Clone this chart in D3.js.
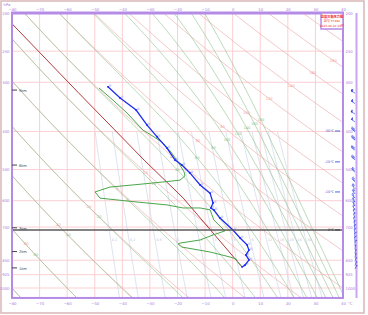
<!DOCTYPE html>
<html>
<head>
<meta charset="utf-8">
<script src="https://cdn.jsdelivr.net/npm/d3@7"></script>
<style>
body { margin: 0; background: #fff; }
svg { display: block; font-family: "DejaVu Sans", "Noto Sans CJK SC", sans-serif; }
</style>
</head>
<body>
<div id="chart"></div>
<script>
// ---- sounding data (hPa / °C) ----
var tempP = [308, 329, 353, 385, 413, 441, 473, 487, 510, 547, 574, 608, 626, 633, 664, 712, 746, 777, 801, 824, 849, 874, 884];
var tempT = [-45.2, -40.8, -35.0, -31.1, -27.4, -23.8, -20.9, -18.4, -15.5, -11.8, -8.2, -7.1, -7.9, -6.8, -4.6, 0.1, 2.7, 5.2, 5.9, 4.8, 5.9, 4.5, 3.4];

var dewP = [310, 333, 359, 397, 413, 428, 451, 478, 507, 519, 532, 541, 547, 554, 570, 591, 601, 608, 615, 626, 626, 633, 672, 716, 733, 755, 769, 773, 787, 810, 834, 844, 859, 884];
var dewT = [-48.5, -43.4, -38.3, -32.5, -28.5, -25.3, -22.4, -19.8, -17.6, -17.3, -19.1, -28.9, -36.1, -44.5, -49.9, -48.1, -38.3, -31.1, -23.8, -18.0, -11.8, -8.2, -6.8, -2.8, -7.1, -11.8, -19.1, -19.8, -18.4, -8.2, -1.0, 1.2, 1.9, 3.4];

var parcelP = [213, 318, 473, 590, 884];
var parcelT = [-80, -56.1, -32.1, -18.0, 3.4];

var windP = [316, 336, 357, 374, 396, 416, 441, 467, 502, 532, 553, 570, 584, 598, 612, 626, 641, 656, 671, 687, 703, 719, 736, 753, 771, 789, 808, 827, 846, 866, 884];
var windDir = [300, 305, 300, 305, 310, 310, 305, 310, 315, 320, 320, 325, 320, 325, 330, 330, 335, 340, 340, 345, 350, 350, 355, 355, 0, 5, 10, 10, 15, 20, 25];
var windSpd = [24, 22, 20, 20, 18, 18, 16, 16, 14, 14, 12, 12, 10, 10, 10, 8, 8, 8, 6, 6, 6, 4, 4, 4, 4, 2, 2, 2, 2, 2, 2];

// ---- diagram furniture ----
var isoTherms = [-80, -70, -60, -50, -40, -30, -20, -10, 0, 10, 20, 30, 40];
var isoBars = [200, 250, 300, 400, 500, 600, 700, 850, 925, 1000];
var thetaLines = [-80, -60, -40, -20, 0, 20, 40, 60, 80, 100, 120, 140, 160, 180, 200, 220];
var thetaSeLines = [-80, -60, -40, -20, 0, 20, 40, 60, 80, 100, 120, 140, 160, 180];
var mixRatios = [0.1, 0.2, 0.5, 1, 2, 3, 5, 8, 12, 16, 20, 24, 30];

var heightLabels = ["9km", "6km", "3km", "2km", "1km"];
var heightP = [314, 487, 703, 808, 889];
var levelLabels = ["-30℃", "-20℃", "-10℃", "0℃"];
var levelP = [399, 478, 570, 712];
var zeroLevelP = 712;

var titleLines = ["温度对数压力图", "站号 57494", "2023-06-01 08时"];

var pTop = 200, pBot = 1060;

var width = 368, height = 315;
var svg = d3.select("#chart").append("svg")
    .attr("width", width)
    .attr("height", height);

var x = d3.scaleLinear().domain([-80, 40]).range([12, 343]);
var y = d3.scaleLog().domain([200, 1000]).range([13, 288]);
var yBot = y(pBot);

var purple = "#b58be8";

// outer frame
svg.append("rect")
    .attr("x", 1).attr("y", 1)
    .attr("width", 363).attr("height", 312)
    .attr("fill", "none")
    .attr("stroke", "#d9b6b6")
    .attr("stroke-width", 1.5);

svg.append("clipPath").attr("id", "plotClip")
    .append("rect")
    .attr("x", x(-80)).attr("y", y(pTop))
    .attr("width", x(40) - x(-80)).attr("height", yBot - y(pTop));

var g = svg.append("g").attr("clip-path", "url(#plotClip)");

// pressure samples for curved reference lines
var pSamples = d3.range(0, 121).map(function(i) { return pTop * Math.pow(pBot / pTop, i / 120); });

var line = d3.line().x(function(d) { return x(d[0]); }).y(function(d) { return y(d[1]); });

// isotherms and isobars
g.selectAll("line.iso-t").data(isoTherms).enter().append("line")
    .attr("x1", function(d) { return x(d); }).attr("x2", function(d) { return x(d); })
    .attr("y1", y(pTop)).attr("y2", yBot)
    .attr("stroke", "#fbcfd3").attr("stroke-width", 1);

g.selectAll("line.iso-p").data(isoBars).enter().append("line")
    .attr("x1", x(-80)).attr("x2", x(40))
    .attr("y1", function(d) { return y(d); }).attr("y2", function(d) { return y(d); })
    .attr("stroke", "#fbcfd3").attr("stroke-width", 1);

function esat(tc) { return 6.112 * Math.exp(17.67 * tc / (tc + 243.5)); }

// mixing ratio lines (below 400 hPa)
function dewFromMix(w, p) {
    var e = w / 1000 * p / (0.622 + w / 1000);
    var l = Math.log(e / 6.112);
    return 243.5 * l / (17.67 - l);
}
var mixP = pSamples.filter(function(p) { return p >= 400; });
mixRatios.forEach(function(w) {
    var pts = mixP.map(function(p) { return [dewFromMix(w, p), p]; });
    g.append("path").attr("d", line(pts))
        .attr("fill", "none").attr("stroke", "#d3dbea").attr("stroke-width", 0.8);
    g.append("text")
        .attr("x", x(dewFromMix(w, 759)) + 1).attr("y", y(759))
        .attr("font-size", 3.4).attr("fill", "#b8c4d8")
        .text(w);
});

// label placement along a slanted line
function labelPoint(pts, a, b) {
    var ax = x(a[0]), ay = y(a[1]), bx = x(b[0]), by = y(b[1]);
    function s(px, py) { return (bx - ax) * (py - ay) - (by - ay) * (px - ax); }
    for (var i = 1; i < pts.length; i++) {
        var x0 = x(pts[i - 1][0]), y0 = y(pts[i - 1][1]);
        var x1 = x(pts[i][0]), y1 = y(pts[i][1]);
        var s0 = s(x0, y0), s1 = s(x1, y1);
        if (s0 === 0 || s0 * s1 < 0) {
            var t = s0 / (s0 - s1);
            var px = x0 + t * (x1 - x0), py = y0 + t * (y1 - y0);
            if (px > x(-80) + 2 && px < x(40) - 2 && py > y(pTop) + 2 && py < yBot - 2) return [px, py];
            return null;
        }
    }
    return null;
}

// dry adiabats
thetaLines.forEach(function(th) {
    var pts = pSamples.map(function(p) { return [(th + 273.15) * Math.pow(p / 1000, 0.286) - 273.15, p]; });
    g.append("path").attr("d", line(pts))
        .attr("fill", "none").attr("stroke", "#eea8a8").attr("stroke-width", 0.9)
        .attr("stroke-opacity", 0.7);
    var lp = labelPoint(pts, [21.5, 305], [-74.6, 770]);
    if (lp) {
        g.append("text").attr("x", lp[0]).attr("y", lp[1] + 1.2)
            .attr("text-anchor", "middle").attr("font-size", 3.6)
            .attr("fill", "#f19b9b").text(th);
    }
});

// moist (pseudo) adiabats from theta-se
function thetaSe(tk, p) {
    var es = esat(tk - 273.15);
    var ws = 0.622 * es / Math.max(p - es, 0.001);
    return tk * Math.pow(1000 / p, 0.286) * Math.exp(2.5e6 * ws / (1004 * tk));
}
function tempOnSe(target, p) {
    var lo = 150, hi = 325;
    if (thetaSe(hi, p) < target) return null;
    for (var k = 0; k < 40; k++) {
        var mid = (lo + hi) / 2;
        if (thetaSe(mid, p) < target) lo = mid; else hi = mid;
    }
    return (lo + hi) / 2 - 273.15;
}
thetaSeLines.forEach(function(th) {
    var pts = [];
    pSamples.forEach(function(p) {
        var t = tempOnSe(th + 273.15, p);
        if (t !== null) pts.push([t, p]);
    });
    g.append("path").attr("d", line(pts))
        .attr("fill", "none").attr("stroke", "#93c493").attr("stroke-width", 0.9)
        .attr("stroke-opacity", 0.7);
    var lp = labelPoint(pts, [9.9, 375], [-71.3, 821]);
    if (lp) {
        g.append("text").attr("x", lp[0]).attr("y", lp[1] + 1.2)
            .attr("text-anchor", "middle").attr("font-size", 3.6)
            .attr("fill", "#8cc48c").text(th);
    }
});

// 0 °C level
svg.append("line")
    .attr("x1", x(-80)).attr("x2", x(40))
    .attr("y1", y(zeroLevelP)).attr("y2", y(zeroLevelP))
    .attr("stroke", "#5a5a5a").attr("stroke-width", 1.4);

// parcel curve
var parcel = parcelP.map(function(p, i) { return [parcelT[i], p]; });
g.append("path").attr("d", line(parcel))
    .attr("fill", "none").attr("stroke", "#b23a3a").attr("stroke-width", 1);

// dew point curve
var dew = dewP.map(function(p, i) { return [dewT[i], p]; });
g.append("path").attr("d", line(dew))
    .attr("fill", "none").attr("stroke", "#4aa64a").attr("stroke-width", 1);

// temperature curve
var temp = tempP.map(function(p, i) { return [tempT[i], p]; });
g.selectAll("circle.tmark").data(temp).enter().append("circle")
    .attr("cx", function(d) { return x(d[0]) + 2.2; })
    .attr("cy", function(d) { return y(d[1]) - 1.2; })
    .attr("r", 1.3)
    .attr("fill", "#a9b4ff").attr("fill-opacity", 0.55);
g.append("path").attr("d", line(temp))
    .attr("fill", "none").attr("stroke", "#1e2ff0").attr("stroke-width", 1.3);
g.selectAll("rect.tdot").data(temp).enter().append("rect")
    .attr("x", function(d) { return x(d[0]) - 0.8; })
    .attr("y", function(d) { return y(d[1]) - 0.8; })
    .attr("width", 1.6).attr("height", 1.6)
    .attr("fill", "#1a22ff");

// plot frame
svg.append("rect")
    .attr("x", x(-80)).attr("y", y(pTop))
    .attr("width", x(40) - x(-80)).attr("height", yBot - y(pTop))
    .attr("fill", "none").attr("stroke", purple).attr("stroke-width", 2);
svg.append("line")
    .attr("x1", x(-80) - 1).attr("x2", x(40) + 1)
    .attr("y1", y(pTop)).attr("y2", y(pTop))
    .attr("stroke", purple).attr("stroke-width", 3);

// wind barb column
svg.append("line")
    .attr("x1", 356.5).attr("x2", 356.5)
    .attr("y1", y(pTop)).attr("y2", yBot)
    .attr("stroke", "#c9a7f0").attr("stroke-width", 2);

// axes (labels only)
function styleAxis(sel) {
    sel.select(".domain").remove();
    sel.selectAll("text")
        .attr("font-size", 3.8)
        .attr("fill", "#a678dc")
        .attr("font-family", "DejaVu Sans");
}
svg.append("g").attr("transform", "translate(0," + (y(pTop) - 1) + ")")
    .call(d3.axisTop(x).tickValues(isoTherms).tickSize(0).tickPadding(1.5))
    .call(styleAxis);
svg.append("g").attr("transform", "translate(0," + (yBot + 1) + ")")
    .call(d3.axisBottom(x).tickValues(isoTherms).tickSize(0).tickPadding(3))
    .call(styleAxis);
svg.append("g").attr("transform", "translate(" + (x(-80) - 1) + ",0)")
    .call(d3.axisLeft(y).tickValues(isoBars).tickFormat(d3.format("d")).tickSize(0).tickPadding(1.5))
    .call(styleAxis);
svg.append("g").attr("transform", "translate(" + (x(40) + 1) + ",0)")
    .call(d3.axisRight(y).tickValues(isoBars).tickFormat(d3.format("d")).tickSize(0).tickPadding(1.5))
    .call(styleAxis);

svg.append("text").attr("x", 7).attr("y", 6)
    .attr("text-anchor", "middle").attr("font-size", 3.8).attr("fill", "#a678dc").text("hPa");
svg.append("text").attr("x", 348).attr("y", yBot + 7)
    .attr("font-size", 3.8).attr("fill", "#a678dc").text("°C");

// height marks
heightLabels.forEach(function(h, i) {
    svg.append("line")
        .attr("x1", x(-80)).attr("x2", x(-80) + 5)
        .attr("y1", y(heightP[i])).attr("y2", y(heightP[i]))
        .attr("stroke", "#444").attr("stroke-width", 1);
    svg.append("text")
        .attr("x", x(-80) + 7).attr("y", y(heightP[i]) + 1.8)
        .attr("font-size", 3.6).attr("fill", "#444").text(h);
});

// temperature level marks on the right
levelLabels.forEach(function(t, i) {
    var col = i === levelLabels.length - 1 ? "#333" : "#3b55d8";
    svg.append("text")
        .attr("x", x(40) - 9).attr("y", y(levelP[i]) + 1.2)
        .attr("text-anchor", "end").attr("font-size", 3.4).attr("fill", col).text(t);
    svg.append("line")
        .attr("x1", x(40) - 8).attr("x2", x(40) - 3)
        .attr("y1", y(levelP[i])).attr("y2", y(levelP[i]))
        .attr("stroke", col).attr("stroke-width", 0.9);
});

// wind barbs (m/s: flag 20, full 4, half 2)
function drawBarb(cx, cy, dir, spd) {
    var a = dir * Math.PI / 180;
    var ux = Math.sin(a), uy = -Math.cos(a);
    var len = 4.5;
    var ex = cx + ux * len, ey = cy + uy * len;
    var gB = svg.append("g").attr("stroke", "#2430e0").attr("stroke-width", 0.6).attr("fill", "#2430e0");
    gB.append("line").attr("x1", cx).attr("y1", cy).attr("x2", ex).attr("y2", ey);
    var px = -uy, py = ux;
    var fl = 2.2, pos = 0, s = spd;
    while (s >= 20) {
        var bx = ex - ux * pos, by = ey - uy * pos;
        gB.append("path").attr("d", "M" + bx + "," + by + "L" + (bx + px * fl) + "," + (by + py * fl) +
            "L" + (bx - ux * 1.2) + "," + (by - uy * 1.2) + "Z");
        pos += 1.6; s -= 20;
    }
    while (s >= 4) {
        var bx2 = ex - ux * pos, by2 = ey - uy * pos;
        gB.append("line").attr("x1", bx2).attr("y1", by2)
            .attr("x2", bx2 + px * fl + ux * 0.9).attr("y2", by2 + py * fl + uy * 0.9);
        pos += 1; s -= 4;
    }
    if (s >= 2) {
        var bx3 = ex - ux * (pos === 0 ? 1 : pos), by3 = ey - uy * (pos === 0 ? 1 : pos);
        gB.append("line").attr("x1", bx3).attr("y1", by3)
            .attr("x2", bx3 + px * fl / 2 + ux * 0.5).attr("y2", by3 + py * fl / 2 + uy * 0.5);
    }
}
windP.forEach(function(p, i) { drawBarb(355, y(p) + 2, windDir[i], windSpd[i]); });

// title box
var boxX = 321, boxY = y(pTop);
svg.append("rect")
    .attr("x", boxX).attr("y", boxY)
    .attr("width", x(40) - boxX).attr("height", 16)
    .attr("fill", "#fff").attr("stroke", purple).attr("stroke-width", 1.5);
titleLines.forEach(function(t, i) {
    svg.append("text")
        .attr("x", (boxX + x(40)) / 2).attr("y", boxY + 4.5 + i * 4.6)
        .attr("text-anchor", "middle")
        .attr("font-size", i === 0 ? 3.2 : 2.9)
        .attr("font-weight", i === 0 ? "bold" : "normal")
        .attr("fill", "#ee2a2a").text(t);
});
</script>
</body>
</html>
